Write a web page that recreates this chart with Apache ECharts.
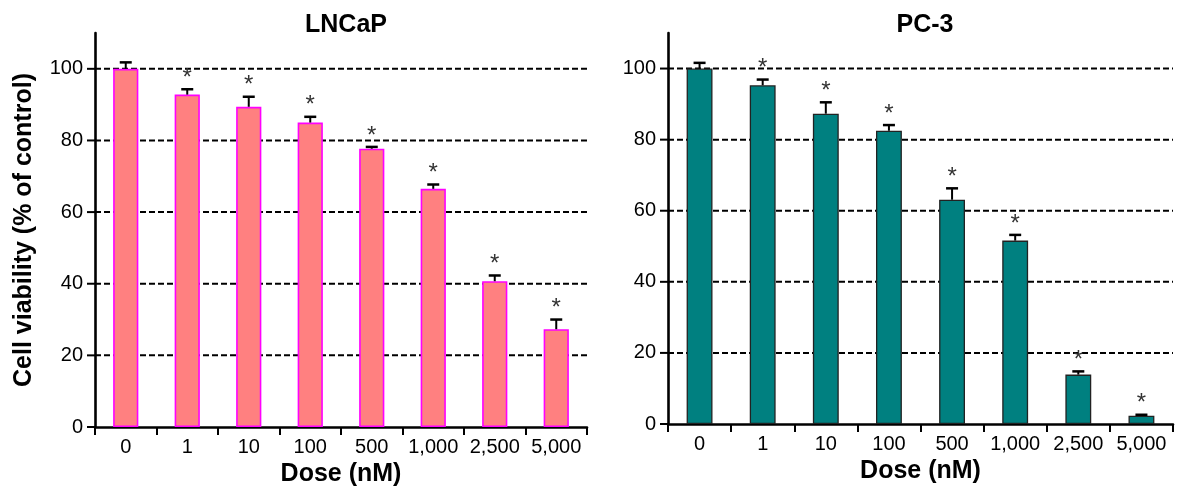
<!DOCTYPE html>
<html>
<head>
<meta charset="utf-8">
<script src="https://cdn.jsdelivr.net/npm/echarts@6/dist/echarts.min.js"></script>
<style>
html,body{margin:0;padding:0;background:#fff;}
#chart{width:1182px;height:495px;}
</style>
</head>
<body>
<div id="chart"></div>
<script>
// ---- data ----
const categories = ['0', '1', '10', '100', '500', '1,000', '2,500', '5,000'];
const lncapValues = [100, 92.8, 89.4, 85.0, 77.7, 66.5, 40.7, 27.3];
const lncapErrors = [1.8, 1.5, 2.8, 1.6, 0.5, 1.2, 1.6, 2.7];
const pc3Values = [100, 95.3, 87.3, 82.5, 63.1, 51.6, 13.9, 2.3];
const pc3Errors = [1.6, 1.6, 3.2, 1.6, 3.2, 1.6, 0.9, 0.3];
const significant = [0, 1, 1, 1, 1, 1, 1, 1];
const yTicks = [0, 20, 40, 60, 80, 100];
const titles = ['LNCaP', 'PC-3'];

const FONT = '"Liberation Sans", Arial, sans-serif';

function gridRender(params, api) {
  const v = api.value(0);
  const cs = params.coordSys;
  const y = api.coord([0, v])[1];
  const children = [{
    type: 'line',
    shape: { x1: cs.x - 8, y1: y, x2: cs.x, y2: y },
    style: { stroke: '#000', lineWidth: 2 }
  }];
  if (v > 0) {
    children.push({
      type: 'line',
      shape: { x1: cs.x, y1: y, x2: cs.x + cs.width, y2: y },
      style: { stroke: '#000', lineWidth: 2, lineDash: [6, 3] }
    });
  }
  return { type: 'group', children: children };
}

function errRender(params, api) {
  const i = api.value(0), v = api.value(1), e = api.value(2), s = api.value(3);
  const base = api.coord([i, v]);
  const top = api.coord([i, v + e]);
  const half = 6;
  const children = [
    { type: 'line', shape: { x1: base[0], y1: base[1], x2: top[0], y2: top[1] }, style: { stroke: '#000', lineWidth: 2 } },
    { type: 'line', shape: { x1: top[0] - half, y1: top[1], x2: top[0] + half, y2: top[1] }, style: { stroke: '#000', lineWidth: 2.5 } }
  ];
  if (s) {
    children.push({
      type: 'text',
      style: { text: '*', x: top[0], y: top[1] - 11, align: 'center', verticalAlign: 'middle',
               fontSize: 24, fontFamily: FONT, fill: '#333' }
    });
  }
  return { type: 'group', children: children };
}

function makeAxes(idx) {
  return {
    x: {
      type: 'category', gridIndex: idx, data: categories,
      axisLine: { lineStyle: { color: '#000', width: 2.6 } },
      axisTick: { show: true, length: 8, lineStyle: { color: '#000', width: 2 } },
      axisLabel: { color: '#000', fontSize: 20, fontFamily: FONT, margin: 10, interval: 0 },
      name: 'Dose (nM)', nameLocation: 'middle', nameGap: 30,
      nameTextStyle: { color: '#000', fontSize: 25, fontWeight: 'bold', fontFamily: FONT }
    },
    y: {
      type: 'value', gridIndex: idx, min: 0, max: 110, interval: 20,
      axisLine: { show: true, lineStyle: { color: '#000', width: 2.6 } },
      axisTick: { show: false },
      splitLine: { show: false },
      axisLabel: { color: '#000', fontSize: 20, fontFamily: FONT, margin: 12, showMaxLabel: false },
      name: idx === 0 ? 'Cell viability (% of control)' : '',
      nameLocation: 'middle', nameGap: 58, nameRotate: 90,
      nameTextStyle: { color: '#000', fontSize: 25, fontWeight: 'bold', fontFamily: FONT }
    }
  };
}

const a0 = makeAxes(0), a1 = makeAxes(1);

function errData(vals, errs) {
  return categories.map((c, i) => [i, vals[i], errs[i], significant[i]]);
}

const option = {
  animation: false,
  backgroundColor: '#fff',
  title: [
    { text: titles[0], left: 341, top: 8, textAlign: 'center',
      textStyle: { color: '#000', fontSize: 25, fontWeight: 'bold', fontFamily: FONT } },
    { text: titles[1], left: 920, top: 8, textAlign: 'center',
      textStyle: { color: '#000', fontSize: 25, fontWeight: 'bold', fontFamily: FONT } }
  ],
  grid: [
    { left: 95, right: 595, top: 33, bottom: 68 },
    { left: 668, right: 9, top: 33, bottom: 71 }
  ],
  xAxis: [a0.x, a1.x],
  yAxis: [a0.y, a1.y],
  series: [
    { type: 'custom', xAxisIndex: 0, yAxisIndex: 0, z: 1, silent: true,
      data: yTicks.map(v => [v]), encode: { y: 0 }, renderItem: gridRender },
    { type: 'custom', xAxisIndex: 1, yAxisIndex: 1, z: 1, silent: true,
      data: yTicks.map(v => [v]), encode: { y: 0 }, renderItem: gridRender },
    { type: 'bar', xAxisIndex: 0, yAxisIndex: 0, z: 2, barWidth: '41%', data: lncapValues,
      itemStyle: { color: '#FF8080', borderColor: '#FF00FF', borderWidth: 1.6 } },
    { type: 'bar', xAxisIndex: 1, yAxisIndex: 1, z: 2, barWidth: '41%', data: pc3Values,
      itemStyle: { color: '#008080', borderColor: '#222', borderWidth: 1.3 } },
    { type: 'custom', xAxisIndex: 0, yAxisIndex: 0, z: 3, silent: true,
      data: errData(lncapValues, lncapErrors), encode: { x: 0, y: 1 }, renderItem: errRender },
    { type: 'custom', xAxisIndex: 1, yAxisIndex: 1, z: 3, silent: true,
      data: errData(pc3Values, pc3Errors), encode: { x: 0, y: 1 }, renderItem: errRender }
  ]
};

const chart = echarts.init(document.getElementById('chart'), null, { renderer: 'canvas' });
chart.setOption(option);
</script>
</body>
</html>
